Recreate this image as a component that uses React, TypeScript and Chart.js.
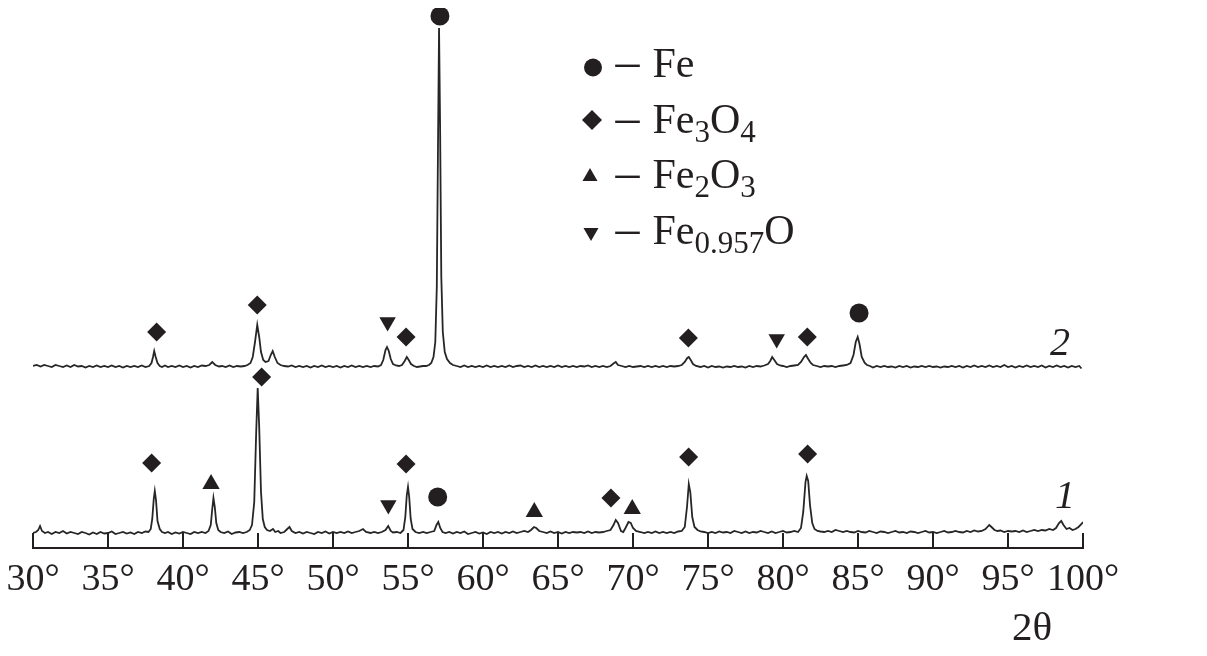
import React, { useEffect, useRef } from 'react';
import { Chart, registerables } from 'chart.js';

Chart.register(...registerables);

// ---- data (2θ in degrees, intensity in arbitrary units) ----
const angleMin = 30;
const angleMax = 100;
const angleStep = 5;

// pattern 1 (lower curve)
const pattern1: [number, number][] = [
  [30.0, 14], [30.2, 15], [30.35, 17], [30.47, 21], [30.6, 16], [30.8, 14], [31.0, 15], [31.25, 13], [31.5, 15], [31.75, 14],
  [32.0, 16], [32.25, 13.5], [32.5, 15], [32.75, 14], [33.0, 13], [33.25, 15], [33.5, 14], [33.75, 12.5], [34.0, 14.5], [34.25, 13],
  [34.5, 15], [34.75, 13.5], [35.0, 14], [35.25, 15.5], [35.5, 13], [35.75, 14], [36.0, 15], [36.25, 13.5], [36.5, 14.5], [36.75, 13],
  [37.0, 15], [37.25, 14], [37.5, 15.5], [37.7, 15], [37.85, 18], [37.95, 28], [38.05, 48], [38.12, 56], [38.2, 47], [38.3, 26],
  [38.45, 18], [38.6, 15], [38.8, 14], [39.0, 15], [39.25, 13], [39.5, 14.5], [39.75, 13.5], [40.0, 15], [40.25, 14], [40.5, 13],
  [40.75, 15], [41.0, 14], [41.25, 15], [41.5, 14], [41.7, 16], [41.85, 22], [41.95, 38], [42.03, 49], [42.12, 40], [42.22, 24],
  [42.35, 17], [42.5, 15], [42.75, 14], [43.0, 15.5], [43.25, 13], [43.5, 14.5], [43.75, 15], [44.0, 14], [44.25, 15], [44.45, 17],
  [44.6, 22], [44.75, 45], [44.88, 115], [44.98, 159], [45.08, 120], [45.2, 55], [45.32, 28], [45.45, 20], [45.6, 17], [45.8, 16],
  [46.0, 18], [46.15, 15], [46.35, 16], [46.5, 14], [46.75, 15], [46.95, 18], [47.1, 20], [47.25, 16], [47.5, 14], [47.75, 15],
  [48.0, 13.5], [48.25, 15], [48.5, 14], [48.75, 13], [49.0, 15], [49.25, 14], [49.5, 15.5], [49.75, 13.5], [50.0, 15], [50.25, 14],
  [50.5, 15], [50.75, 14], [51.0, 15.5], [51.25, 14], [51.5, 15], [51.75, 16], [52.0, 18], [52.2, 15], [52.5, 14], [52.75, 15],
  [53.0, 14], [53.25, 15], [53.5, 17], [53.68, 21], [53.85, 16], [54.0, 14.5], [54.25, 15], [54.5, 14], [54.7, 17], [54.82, 30],
  [54.92, 52], [55.0, 60], [55.08, 50], [55.18, 28], [55.3, 18], [55.5, 15], [55.75, 14], [56.0, 15], [56.25, 14], [56.5, 15],
  [56.75, 16], [56.9, 22], [57.02, 25], [57.15, 19], [57.3, 15], [57.5, 14], [57.75, 15], [58.0, 13.5], [58.25, 15], [58.5, 14],
  [58.75, 15.5], [59.0, 13], [59.25, 14], [59.5, 15], [59.75, 13.5], [60.0, 14.5], [60.25, 13], [60.5, 15], [60.75, 14], [61.0, 15],
  [61.25, 13.5], [61.5, 15], [61.75, 14], [62.0, 15.5], [62.25, 14], [62.5, 15], [62.75, 16], [63.0, 15], [63.2, 17], [63.4, 20],
  [63.55, 19], [63.75, 16], [64.0, 15], [64.25, 14], [64.5, 15.5], [64.75, 14], [65.0, 15], [65.25, 13.5], [65.5, 15], [65.75, 14],
  [66.0, 15], [66.25, 14.5], [66.5, 15], [66.75, 14], [67.0, 15.5], [67.25, 14], [67.5, 15], [67.75, 14.5], [68.0, 15], [68.25, 16],
  [68.5, 17], [68.7, 22], [68.85, 27], [69.0, 24], [69.2, 16], [69.35, 15], [69.5, 19], [69.7, 25], [69.85, 24], [70.0, 19],
  [70.2, 16], [70.5, 15], [70.75, 14], [71.0, 15], [71.25, 14], [71.5, 15.5], [71.75, 14], [72.0, 15], [72.25, 14], [72.5, 15],
  [72.75, 14], [73.0, 15.5], [73.25, 16], [73.45, 20], [73.6, 40], [73.72, 63], [73.82, 55], [73.95, 30], [74.1, 20], [74.3, 17],
  [74.5, 15.5], [74.75, 15], [75.0, 14], [75.25, 15], [75.5, 14], [75.75, 15.5], [76.0, 14.5], [76.25, 15], [76.5, 14], [76.75, 16],
  [77.0, 15], [77.25, 14], [77.5, 15.5], [77.75, 14], [78.0, 15], [78.25, 14.5], [78.5, 16], [78.75, 15], [79.0, 14], [79.25, 15.5],
  [79.5, 14], [79.75, 15], [80.0, 16], [80.25, 14.5], [80.5, 15], [80.75, 16], [81.0, 15], [81.2, 19], [81.35, 35], [81.5, 65],
  [81.58, 71], [81.68, 66], [81.8, 42], [81.95, 24], [82.1, 18], [82.3, 16], [82.5, 15.5], [82.75, 15], [83.0, 16], [83.25, 15],
  [83.5, 17], [83.75, 16], [84.0, 15], [84.25, 16], [84.5, 15], [84.75, 14.5], [85.0, 16], [85.25, 15], [85.5, 14.5], [85.75, 16],
  [86.0, 15], [86.25, 14], [86.5, 15.5], [86.75, 15], [87.0, 14], [87.25, 15], [87.5, 16], [87.75, 14.5], [88.0, 15], [88.25, 14],
  [88.5, 15.5], [88.75, 15], [89.0, 14], [89.25, 15], [89.5, 16], [89.75, 14.5], [90.0, 15], [90.25, 14], [90.5, 15], [90.75, 16],
  [91.0, 14.5], [91.25, 15], [91.5, 16], [91.75, 15], [92.0, 14.5], [92.25, 16], [92.5, 15], [92.75, 16.5], [93.0, 15.5], [93.25, 16],
  [93.5, 18], [93.75, 22], [93.9, 20], [94.1, 17], [94.3, 16], [94.5, 16.5], [94.75, 15], [95.0, 16], [95.25, 15.5], [95.5, 16],
  [95.75, 15], [96.0, 16.5], [96.25, 15], [96.5, 16], [96.75, 17], [97.0, 16], [97.25, 17], [97.5, 16.5], [97.75, 18], [98.0, 17],
  [98.2, 19], [98.4, 24], [98.55, 26], [98.7, 22], [98.9, 18], [99.1, 19], [99.3, 17], [99.5, 18], [99.7, 20], [99.9, 23],
  [100.0, 25],
];

// pattern 2 (upper curve)
const pattern2: [number, number][] = [
  [30.0, 181], [30.25, 182], [30.5, 180.5], [30.75, 182], [31.0, 181], [31.25, 180], [31.5, 182], [31.75, 181], [32.0, 180], [32.25, 181.5],
  [32.5, 180], [32.75, 182], [33.0, 180.5], [33.25, 181], [33.5, 179.5], [33.75, 181], [34.0, 180], [34.25, 181.5], [34.5, 180], [34.75, 181],
  [35.0, 180], [35.25, 181.5], [35.5, 180], [35.75, 181], [36.0, 179.5], [36.25, 181], [36.5, 180], [36.75, 181], [37.0, 180], [37.25, 181.5],
  [37.5, 180], [37.75, 181], [37.9, 184], [38.0, 190], [38.08, 196], [38.18, 190], [38.3, 184], [38.45, 181], [38.6, 180], [38.8, 181.5],
  [39.0, 180], [39.25, 181], [39.5, 180], [39.75, 181.5], [40.0, 180], [40.25, 181], [40.5, 179.5], [40.75, 181], [41.0, 180], [41.25, 181.5],
  [41.5, 181], [41.75, 182], [41.95, 185], [42.15, 182], [42.4, 180.5], [42.6, 181], [42.85, 180], [43.1, 181.5], [43.35, 180], [43.6, 181],
  [43.85, 180.5], [44.1, 181], [44.3, 182], [44.5, 184], [44.65, 190], [44.8, 205], [44.95, 222], [45.08, 210], [45.2, 195], [45.35, 187],
  [45.5, 185], [45.7, 186], [45.85, 192], [45.98, 196], [46.12, 190], [46.3, 184], [46.5, 182], [46.75, 181], [47.0, 180.5], [47.25, 181.5],
  [47.5, 180], [47.75, 181], [48.0, 180], [48.25, 181], [48.5, 179.5], [48.75, 181], [49.0, 180], [49.25, 181.5], [49.5, 180], [49.75, 181],
  [50.0, 180], [50.25, 181], [50.5, 179.5], [50.75, 181], [51.0, 180], [51.25, 181.5], [51.5, 180], [51.75, 181], [52.0, 180], [52.25, 181],
  [52.5, 180], [52.75, 181], [53.0, 180.5], [53.2, 182], [53.35, 187], [53.5, 197], [53.6, 200], [53.72, 196], [53.85, 188], [54.0, 183],
  [54.2, 181.5], [54.4, 181], [54.6, 182], [54.78, 186], [54.92, 190], [55.05, 187], [55.2, 183], [55.4, 181], [55.6, 180], [55.8, 180.5],
  [56.0, 181], [56.2, 181], [56.4, 182], [56.55, 184], [56.7, 190], [56.82, 205], [56.92, 260], [57.0, 400], [57.07, 519], [57.14, 420],
  [57.22, 270], [57.32, 215], [57.45, 195], [57.6, 188], [57.8, 184], [58.0, 182], [58.25, 181], [58.5, 180], [58.75, 181.5], [59.0, 180],
  [59.25, 181], [59.5, 180], [59.75, 181], [60.0, 180], [60.25, 181.5], [60.5, 180], [60.75, 181], [61.0, 180], [61.25, 181], [61.5, 180],
  [61.75, 181.5], [62.0, 180], [62.25, 181], [62.5, 181.5], [62.75, 180], [63.0, 181], [63.25, 180], [63.5, 181.5], [63.75, 180], [64.0, 181],
  [64.25, 180], [64.5, 181], [64.75, 180], [65.0, 181.5], [65.25, 180], [65.5, 181], [65.75, 180], [66.0, 181], [66.25, 180], [66.5, 181],
  [66.75, 180.5], [67.0, 181.5], [67.25, 180], [67.5, 181], [67.75, 180], [68.0, 181], [68.25, 180], [68.5, 181], [68.7, 183.5], [68.85, 185],
  [69.0, 182], [69.25, 181], [69.5, 180], [69.75, 181], [70.0, 180], [70.25, 180.5], [70.5, 181], [70.75, 180], [71.0, 181], [71.25, 180],
  [71.5, 181], [71.75, 180], [72.0, 181], [72.25, 180], [72.5, 181], [72.75, 180.5], [73.0, 181], [73.25, 182], [73.45, 185], [73.62, 189],
  [73.72, 190], [73.85, 187], [74.0, 183], [74.2, 181], [74.5, 180], [74.75, 181], [75.0, 179.5], [75.25, 181], [75.5, 180], [75.75, 180.5],
  [76.0, 179.5], [76.25, 180.5], [76.5, 180], [76.75, 181], [77.0, 180], [77.25, 180.5], [77.5, 179.5], [77.75, 181], [78.0, 180], [78.25, 181],
  [78.5, 180.5], [78.75, 181.5], [79.0, 183], [79.15, 186], [79.28, 190], [79.42, 187], [79.6, 183], [79.8, 181.5], [80.0, 181], [80.25, 180],
  [80.5, 181], [80.75, 181.5], [81.0, 182], [81.2, 185], [81.4, 190], [81.53, 192], [81.68, 188], [81.85, 184], [82.0, 182], [82.25, 181],
  [82.5, 180], [82.75, 181], [83.0, 180.5], [83.25, 181], [83.5, 180], [83.75, 181], [84.0, 181.5], [84.25, 182], [84.5, 184], [84.7, 192],
  [84.85, 205], [84.98, 210], [85.1, 203], [85.25, 190], [85.45, 184], [85.6, 182], [85.8, 181], [86.0, 179.5], [86.25, 181], [86.5, 180],
  [86.75, 181], [87.0, 180], [87.25, 180.5], [87.5, 179.5], [87.75, 181], [88.0, 180], [88.25, 181], [88.5, 179.5], [88.75, 180.5], [89.0, 180],
  [89.25, 181], [89.5, 180], [89.75, 181], [90.0, 180], [90.25, 180.5], [90.5, 179.5], [90.75, 180.5], [91.0, 180], [91.25, 181], [91.5, 180],
  [91.75, 181], [92.0, 179.5], [92.25, 181], [92.5, 180], [92.75, 181.5], [93.0, 180], [93.25, 181], [93.5, 180], [93.75, 181.5], [94.0, 180],
  [94.25, 181], [94.5, 180], [94.75, 182], [95.0, 180], [95.25, 181], [95.5, 179.5], [95.75, 181], [96.0, 180], [96.25, 181.5], [96.5, 180],
  [96.75, 181], [97.0, 180], [97.25, 181.5], [97.5, 179.5], [97.75, 181], [98.0, 180], [98.25, 181.5], [98.5, 180], [98.75, 181], [99.0, 179.5],
  [99.25, 181], [99.5, 180], [99.75, 181], [99.9, 178.5],
];

// phase markers placed above peaks: [2θ, level]
const feMarks: [number, number][] = [[57.13, 531], [85.07, 234], [56.98, 50]];
const fe3o4Marks: [number, number][] = [
  [38.24, 215], [44.95, 242], [54.87, 210], [73.69, 209], [81.62, 210],
  [37.91, 84], [45.24, 170], [54.87, 83], [68.53, 49], [73.71, 90], [81.64, 93],
];
const fe2o3Marks: [number, number][] = [[41.87, 63], [63.42, 35], [69.95, 38]];
const feoMarks: [number, number][] = [[53.64, 225], [79.58, 208], [53.69, 42]];

// legend entries: [text, isSubscript]
const legendEntries: { symbol: string; parts: [string, boolean][] }[] = [
  { symbol: 'circle', parts: [['Fe', false]] },
  { symbol: 'diamond', parts: [['Fe', false], ['3', true], ['O', false], ['4', true]] },
  { symbol: 'up', parts: [['Fe', false], ['2', true], ['O', false], ['3', true]] },
  { symbol: 'down', parts: [['Fe', false], ['0.957', true], ['O', false]] },
];

const curveLabels: string[] = ['2', '1'];
const axisTitle = '2θ';

const INK = '#231f20';
const LINE = '#262626';
const SERIF = '"Liberation Serif", "Times New Roman", serif';

function drawSymbol(ctx: CanvasRenderingContext2D, kind: string, x: number, y: number) {
  ctx.beginPath();
  if (kind === 'circle') {
    ctx.arc(x, y, 9, 0, Math.PI * 2);
  } else if (kind === 'diamond') {
    ctx.moveTo(x, y - 10); ctx.lineTo(x + 10, y); ctx.lineTo(x, y + 10); ctx.lineTo(x - 10, y);
  } else if (kind === 'up') {
    ctx.moveTo(x, y - 8.5); ctx.lineTo(x + 7.5, y + 4.5); ctx.lineTo(x - 7.5, y + 4.5);
  } else {
    ctx.moveTo(x, y + 8.5); ctx.lineTo(x + 7.5, y - 4.5); ctx.lineTo(x - 7.5, y - 4.5);
  }
  ctx.closePath();
  ctx.fill();
}

const overlay = {
  id: 'overlay',
  afterDraw(chart: any) {
    const ctx: CanvasRenderingContext2D = chart.ctx;
    const xs = chart.scales.x;
    const bottom = chart.chartArea.bottom;
    ctx.save();
    // upward tick marks
    ctx.strokeStyle = INK;
    ctx.lineWidth = 2;
    for (const t of xs.ticks) {
      const px = Math.round(xs.getPixelForValue(t.value));
      ctx.beginPath();
      ctx.moveTo(px, bottom);
      ctx.lineTo(px, bottom - 15);
      ctx.stroke();
    }
    // legend
    ctx.fillStyle = INK;
    ctx.textBaseline = 'alphabetic';
    ctx.textAlign = 'left';
    const symX = [605, 604, 602, 603];
    const symY = [63.5, 116, 172.5, 228.5];
    const baseY = [72.7, 128.5, 184, 240];
    legendEntries.forEach((e, i) => {
      drawSymbol(ctx, e.symbol, symX[i], symY[i]);
      ctx.font = `48px ${SERIF}`;
      ctx.fillText('–', 627.5, baseY[i]);
      let x = 664.5;
      for (const [txt, sub] of e.parts) {
        ctx.font = sub ? `31px ${SERIF}` : `42px ${SERIF}`;
        ctx.fillText(txt, x, baseY[i] + (sub ? 9 : 0));
        x += ctx.measureText(txt).width;
      }
    });
    // curve numbers
    ctx.font = `italic 40px ${SERIF}`;
    ctx.fillText(curveLabels[0], 1062, 351);
    ctx.fillText(curveLabels[1], 1067, 504);
    // axis title
    ctx.font = `41px ${SERIF}`;
    ctx.textAlign = 'center';
    ctx.fillText(axisTitle, 1044, 636);
    ctx.restore();
  },
};

function markerSet(pts: [number, number][], style: string, radius: number, rotation = 0) {
  return {
    type: 'scatter' as const,
    data: pts.map(([x, y]) => ({ x, y })),
    pointStyle: style,
    pointRadius: radius,
    pointRotation: rotation,
    pointBackgroundColor: INK,
    pointBorderWidth: 0,
    pointBorderColor: INK,
    showLine: false,
    clip: false as any,
  };
}

export default function App() {
  const ref = useRef<HTMLCanvasElement | null>(null);
  useEffect(() => {
    if (!ref.current) return;
    const chart = new Chart(ref.current, {
      type: 'scatter',
      data: {
        datasets: [
          {
            data: pattern1.map(([x, y]) => ({ x, y })),
            showLine: true,
            borderColor: LINE,
            borderWidth: 1.8,
            pointRadius: 0,
            tension: 0,
          },
          {
            data: pattern2.map(([x, y]) => ({ x, y })),
            showLine: true,
            borderColor: LINE,
            borderWidth: 1.8,
            pointRadius: 0,
            tension: 0,
          },
          markerSet(feMarks, 'circle', 9.5),
          markerSet(fe3o4Marks, 'rectRot', 9.5),
          markerSet(fe2o3Marks, 'triangle', 10),
          markerSet(feoMarks, 'triangle', 9.5, 180),
        ] as any,
      },
      options: {
        animation: false,
        responsive: false,
        events: [],
        layout: { autoPadding: false, padding: { left: 45, right: 116, top: 0, bottom: 37.4 } },
        plugins: { legend: { display: false }, tooltip: { enabled: false } },
        scales: {
          x: {
            type: 'linear',
            min: angleMin,
            max: angleMax,
            grid: { display: false, drawTicks: false },
            border: { display: true, color: INK, width: 2 },
            ticks: {
              stepSize: angleStep,
              autoSkip: false,
              maxRotation: 0,
              padding: 9,
              color: INK,
              font: { family: SERIF, size: 38 },
              callback: (v: any) => `${v}°`,
            },
          },
          y: { display: false, min: -1, max: 543 },
        },
      } as any,
      plugins: [overlay],
    });
    return () => chart.destroy();
  }, []);
  return (
    <canvas
      ref={ref}
      width={1211}
      height={645}
      style={{ display: 'block', position: 'relative', left: -20, top: -4 }}
    />
  );
}
